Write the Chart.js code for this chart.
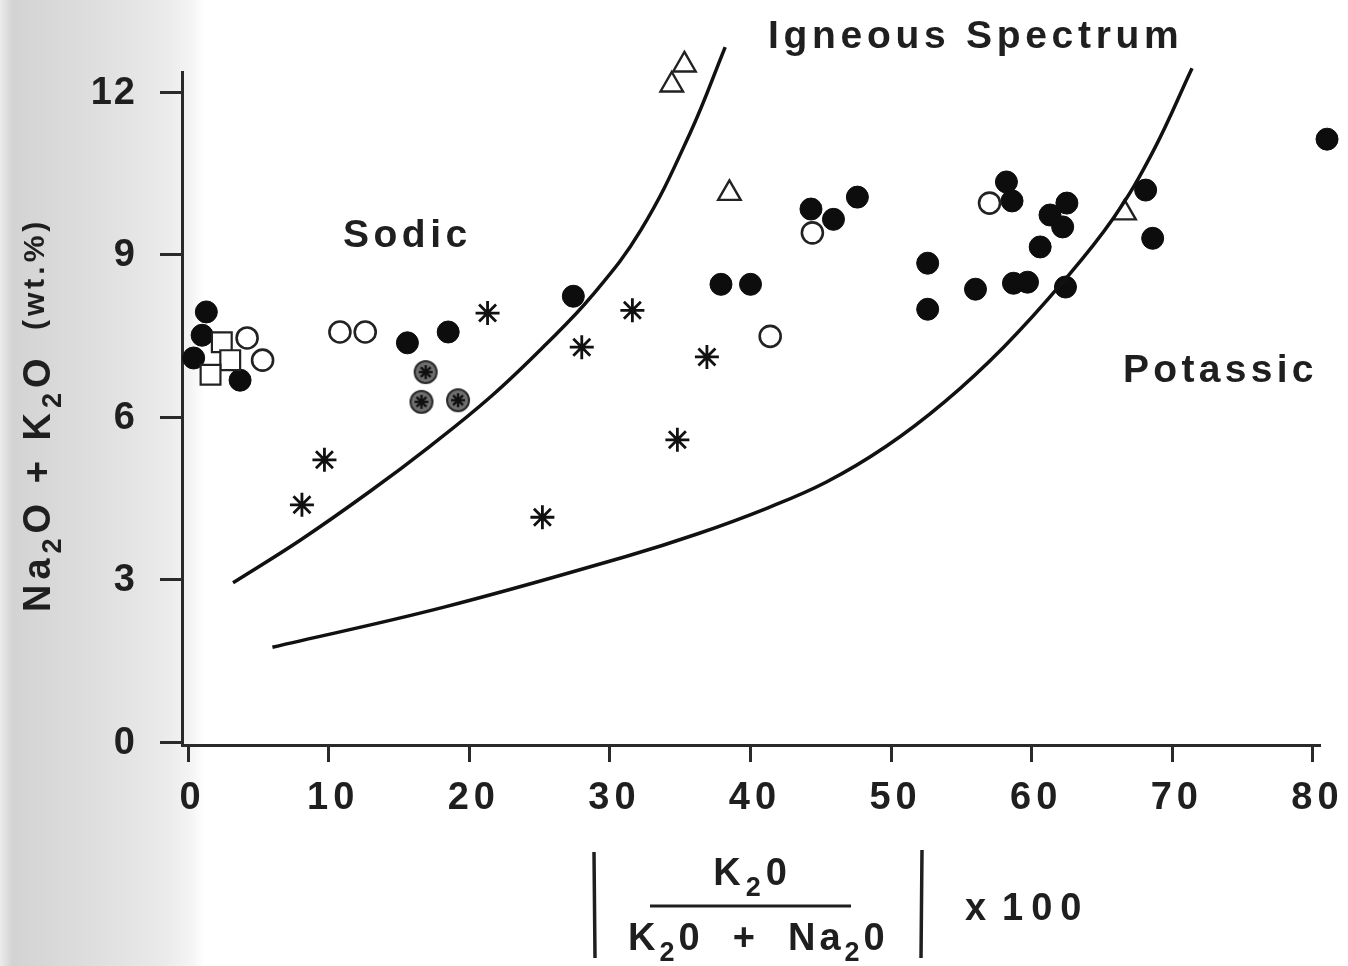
<!DOCTYPE html>
<html>
<head>
<meta charset="utf-8">
<script src="https://cdn.jsdelivr.net/npm/chart.js@4.4.1/dist/chart.umd.min.js"></script>
<style>
  html, body { margin: 0; padding: 0; background: #fff; }
  #wrap { width: 1348px; height: 966px; }
</style>
</head>
<body>
<div id="wrap"><canvas id="chart" width="1348" height="966"></canvas></div>
<script>
// Data
const xTicks = [0, 10, 20, 30, 40, 50, 60, 70, 80];
const yTicks = [0, 3, 6, 9, 12];

// solid circles
const solidX = [0.4, 1.3, 1.0, 3.7, 15.6, 18.5, 27.4, 37.9, 40.0, 44.3, 45.9, 47.6, 52.6, 52.6, 56.0, 58.2, 58.6, 58.7, 59.7, 60.6, 61.3, 62.5, 62.2, 62.4, 68.1, 68.6, 81.0];
const solidY = [7.09, 7.94, 7.51, 6.68, 7.37, 7.57, 8.23, 8.45, 8.45, 9.84, 9.65, 10.06, 8.84, 7.99, 8.36, 10.34, 9.99, 8.47, 8.49, 9.14, 9.73, 9.95, 9.51, 8.40, 10.19, 9.30, 11.13];

// open circles
const openX = [4.2, 5.3, 10.8, 12.6, 44.4, 57.0, 41.4];
const openY = [7.46, 7.05, 7.57, 7.57, 9.40, 9.95, 7.49];

// open squares
const squareX = [2.4, 3.0, 1.6];
const squareY = [7.38, 7.05, 6.78];

// open triangles
const triX = [34.4, 35.3, 38.5, 66.6];
const triY = [12.13, 12.50, 10.13, 9.77];

// asterisks
const starX = [21.3, 28.0, 31.6, 36.9, 9.7, 8.1, 25.2, 34.8];
const starY = [7.92, 7.29, 7.97, 7.11, 5.21, 4.38, 4.15, 5.58];

// stippled circles with asterisk
const dotStarX = [16.9, 16.6, 19.2];
const dotStarY = [6.83, 6.28, 6.31];

// boundary curves of the igneous spectrum
const sodicLineX = [3.2, 8.0, 12.9, 17.2, 21.5, 25.4, 28.7, 32.2, 35.7, 38.2];
const sodicLineY = [2.94, 3.73, 4.62, 5.46, 6.37, 7.33, 8.23, 9.45, 11.24, 12.83];
const potassicLineX = [6.0, 18.2, 31.2, 36.2, 41.2, 45.4, 49.6, 53.8, 58.0, 62.2, 65.8, 68.6, 71.4];
const potassicLineY = [1.75, 2.49, 3.43, 3.84, 4.32, 4.80, 5.45, 6.28, 7.29, 8.49, 9.67, 10.89, 12.44];

const FONT = '"Liberation Sans", Arial, Helvetica, sans-serif';
const INK = '#1f1f1f';

function pts(xs, ys) {
  return xs.map((x, i) => ({ x: x, y: ys[i] }));
}

// gray disc with an asterisk in it
function makeDotStar() {
  const c = document.createElement('canvas');
  c.width = 26; c.height = 26;
  const g = c.getContext('2d');
  g.beginPath();
  g.arc(13, 13, 11, 0, Math.PI * 2);
  g.fillStyle = '#6f6f6f';
  g.fill();
  g.lineWidth = 2;
  g.strokeStyle = '#2a2a2a';
  g.stroke();
  g.strokeStyle = '#111';
  g.lineWidth = 2.4;
  for (let a = 0; a < 4; a++) {
    const ang = a * Math.PI / 4;
    g.beginPath();
    g.moveTo(13 - 7 * Math.cos(ang), 13 - 7 * Math.sin(ang));
    g.lineTo(13 + 7 * Math.cos(ang), 13 + 7 * Math.sin(ang));
    g.stroke();
  }
  return c;
}

function spaced(ctx, str, x, y, gap) {
  for (const ch of str) {
    ctx.fillText(ch, x, y);
    x += ctx.measureText(ch).width + gap;
  }
  return x;
}

function spacedWidth(ctx, str, gap) {
  let w = 0;
  for (const ch of str) w += ctx.measureText(ch).width + gap;
  return w - gap;
}

// parts: [{t, sub}]
function rich(ctx, parts, x, y, size, gap) {
  parts.forEach(p => {
    const s = p.sub ? Math.round(size * 0.72) : size;
    ctx.font = 'bold ' + s + 'px ' + FONT;
    x = spaced(ctx, p.t, x, y + (p.sub ? size * 0.3 : 0), gap);
  });
  return x;
}

function richWidth(ctx, parts, size, gap) {
  let w = 0;
  parts.forEach(p => {
    const s = p.sub ? Math.round(size * 0.72) : size;
    ctx.font = 'bold ' + s + 'px ' + FONT;
    w += spacedWidth(ctx, p.t, gap) + gap;
  });
  return w - gap;
}

const paperPlugin = {
  id: 'paper',
  beforeDraw(chart) {
    const ctx = chart.ctx;
    ctx.save();
    ctx.fillStyle = '#fff';
    ctx.fillRect(0, 0, chart.width, chart.height);
    const g = ctx.createLinearGradient(0, 0, 205, 0);
    g.addColorStop(0, '#ececec');
    g.addColorStop(0.06, '#d3d3d3');
    g.addColorStop(0.45, '#dedede');
    g.addColorStop(0.8, '#eaeaea');
    g.addColorStop(0.93, '#f4f4f4');
    g.addColorStop(1, '#ffffff');
    ctx.fillStyle = g;
    ctx.fillRect(0, 0, 205, chart.height);
    ctx.restore();
  }
};

const labelPlugin = {
  id: 'labels',
  afterDraw(chart) {
    const ctx = chart.ctx;
    const xs = chart.scales.x, ys = chart.scales.y;
    ctx.save();
    ctx.fillStyle = INK;
    ctx.strokeStyle = INK;

    // tick labels
    ctx.font = 'bold 38px ' + FONT;
    ctx.textBaseline = 'middle';
    ctx.textAlign = 'left';
    yTicks.forEach(v => {
      const s = String(v);
      const w = spacedWidth(ctx, s, 2);
      spaced(ctx, s, 135 - w, ys.getPixelForValue(v) + 1, 2);
    });
    xTicks.forEach(v => {
      const s = String(v);
      const w = spacedWidth(ctx, s, 5);
      spaced(ctx, s, xs.getPixelForValue(v) + 2 - w / 2, 799, 5);
    });

    // region labels
    ctx.textBaseline = 'alphabetic';
    ctx.font = 'bold 39px ' + FONT;
    spaced(ctx, 'Igneous Spectrum', 768, 48, 4.7);
    spaced(ctx, 'Sodic', 343, 247, 4.5);
    spaced(ctx, 'Potassic', 1123, 382, 4.3);

    // y title, rotated
    ctx.save();
    ctx.translate(50, 612);
    ctx.rotate(-Math.PI / 2);
    rich(ctx, [{ t: 'Na' }, { t: '2', sub: true }, { t: 'O + K' }, { t: '2', sub: true }, { t: 'O' }], 0, 0, 38, 5);
    ctx.font = 'bold 30px ' + FONT;
    spaced(ctx, '(wt.%)', 282, -6, 4);
    ctx.restore();

    // x title: fraction in bars, x 100
    const num = [{ t: 'K' }, { t: '2', sub: true }, { t: '0' }];
    const den = [{ t: 'K' }, { t: '2', sub: true }, { t: '0  +  Na' }, { t: '2', sub: true }, { t: '0' }];
    const nw = richWidth(ctx, num, 38, 5);
    rich(ctx, num, 750 - nw / 2, 885, 38, 5);
    rich(ctx, den, 628, 950, 38, 4);
    ctx.font = 'bold 38px ' + FONT;
    spaced(ctx, 'x', 965, 920, 0);
    spaced(ctx, '100', 1002, 920, 8);

    ctx.lineWidth = 3.5;
    ctx.beginPath();
    ctx.moveTo(594, 852); ctx.lineTo(595, 958);
    ctx.moveTo(922, 850); ctx.lineTo(921, 958);
    ctx.stroke();
    ctx.lineWidth = 3;
    ctx.beginPath();
    ctx.moveTo(650, 906); ctx.lineTo(851, 906);
    ctx.stroke();

    ctx.restore();
  }
};

const dotStar = makeDotStar();

const markerBase = { showLine: false, clip: false };

new Chart(document.getElementById('chart'), {
  type: 'scatter',
  data: {
    datasets: [
      {
        label: 'Sodic boundary', data: pts(sodicLineX, sodicLineY), showLine: true,
        borderColor: '#111', borderWidth: 3.5, pointRadius: 0, tension: 0.4, clip: false
      },
      {
        label: 'Potassic boundary', data: pts(potassicLineX, potassicLineY), showLine: true,
        borderColor: '#111', borderWidth: 3.5, pointRadius: 0, tension: 0.4, clip: false
      },
      Object.assign({
        label: 'open squares', data: pts(squareX, squareY), pointStyle: 'rect', pointRadius: 14,
        backgroundColor: '#fff', borderColor: '#222', borderWidth: 2.2
      }, markerBase),
      Object.assign({
        label: 'open circles', data: pts(openX, openY), pointStyle: 'circle', pointRadius: 10.5,
        backgroundColor: '#fff', borderColor: '#222', borderWidth: 2.6
      }, markerBase),
      Object.assign({
        label: 'solid circles', data: pts(solidX, solidY), pointStyle: 'circle', pointRadius: 11,
        backgroundColor: '#0d0d0d', borderColor: '#0d0d0d', borderWidth: 1
      }, markerBase),
      Object.assign({
        label: 'triangles', data: pts(triX, triY), pointStyle: 'triangle', pointRadius: 13,
        backgroundColor: '#fff', borderColor: '#222', borderWidth: 2.4
      }, markerBase),
      Object.assign({
        label: 'asterisks', data: pts(starX, starY), pointStyle: 'star', pointRadius: 12,
        backgroundColor: '#111', borderColor: '#111', borderWidth: 2.8
      }, markerBase),
      Object.assign({
        label: 'stippled', data: pts(dotStarX, dotStarY), pointStyle: dotStar, pointRadius: 12
      }, markerBase)
    ]
  },
  options: {
    responsive: false,
    animation: false,
    events: [],
    layout: { padding: { left: 0, right: 28, top: 72, bottom: 0 } },
    plugins: { legend: { display: false }, tooltip: { enabled: false } },
    scales: {
      x: {
        type: 'linear', min: -0.43, max: 80.5,
        afterBuildTicks: s => { s.ticks = xTicks.map(v => ({ value: v })); },
        afterFit: s => { s.height = 221; },
        ticks: { display: false },
        grid: { drawOnChartArea: false, drawTicks: true, tickLength: 17, tickWidth: 3, tickColor: '#2a2a2a' },
        border: { display: true, color: '#2a2a2a', width: 3 }
      },
      y: {
        type: 'linear', min: -0.055, max: 12.37,
        afterBuildTicks: s => { s.ticks = yTicks.map(v => ({ value: v })); },
        afterFit: s => { s.width = 182; },
        ticks: { display: false },
        grid: { drawOnChartArea: false, drawTicks: true, tickLength: 22, tickWidth: 3, tickColor: '#2a2a2a' },
        border: { display: true, color: '#2a2a2a', width: 3 }
      }
    }
  },
  plugins: [paperPlugin, labelPlugin]
});
</script>
</body>
</html>
